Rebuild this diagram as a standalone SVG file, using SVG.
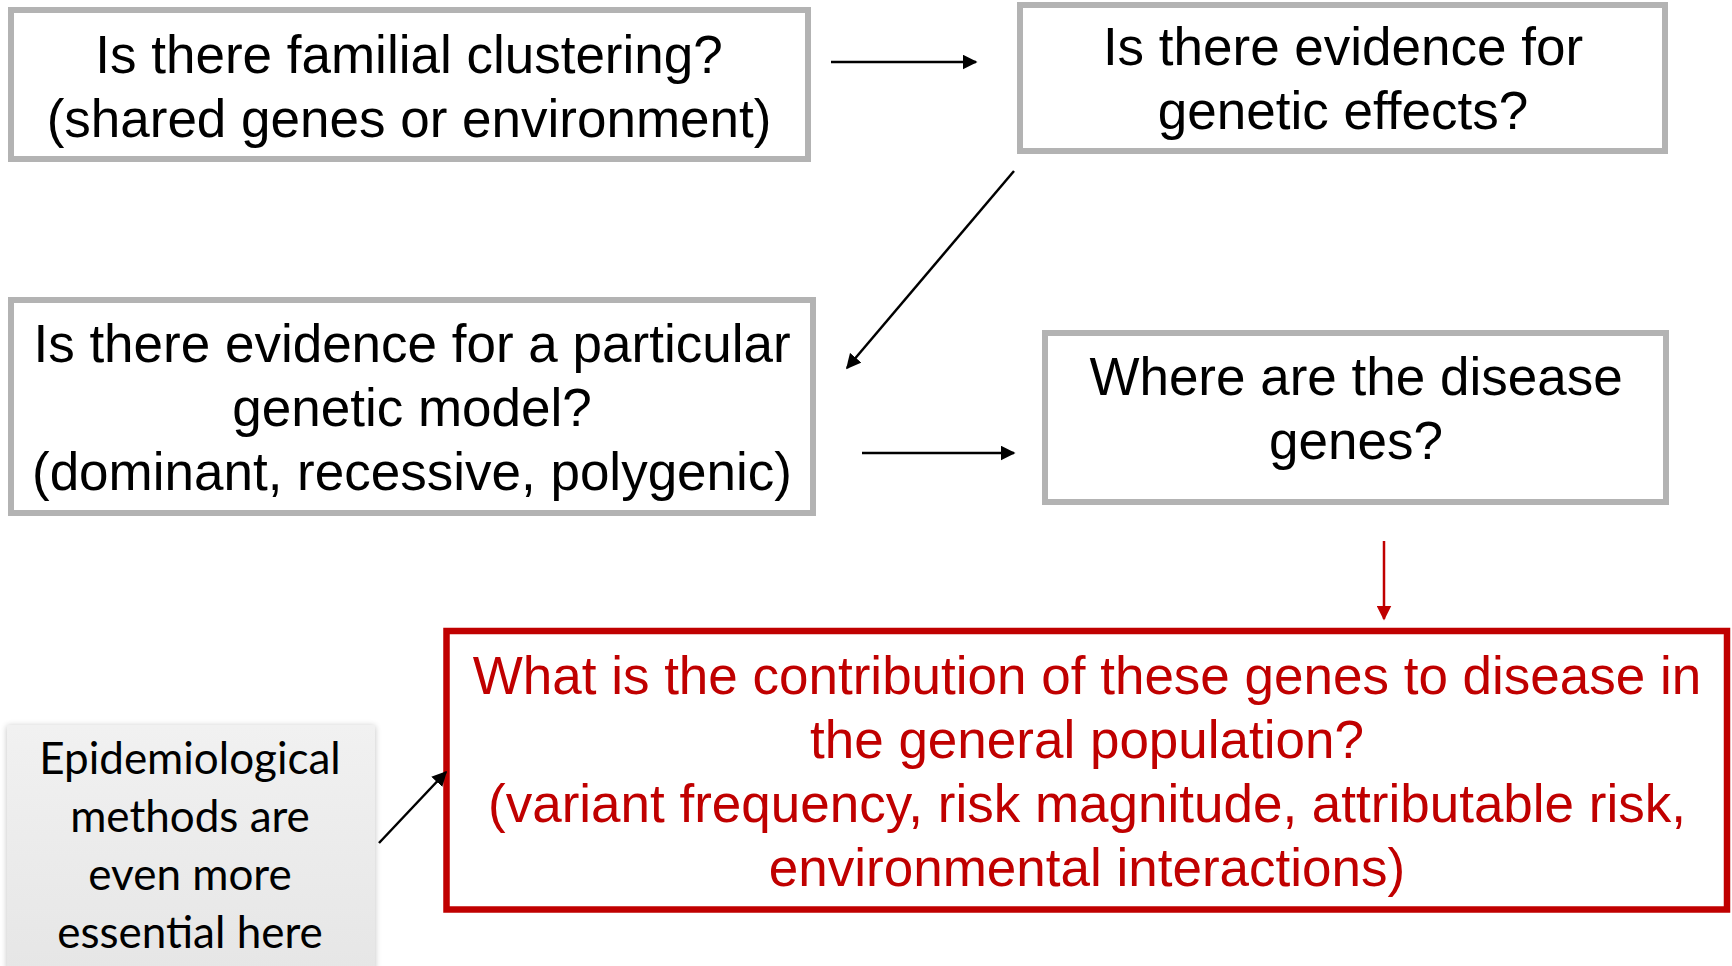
<svg xmlns="http://www.w3.org/2000/svg" width="1732" height="966" viewBox="0 0 1732 966">
  <style>
    .box { fill: #ffffff; stroke: #b3b3b3; stroke-width: 6; }
    .hot { fill: #ffffff; stroke: #c00000; stroke-width: 6.5; }
    .t { font-family: "Liberation Sans", Arial, sans-serif; font-size: 53px; fill: #000000; text-anchor: middle; }
    .tr { font-family: "Liberation Sans", Arial, sans-serif; font-size: 53px; fill: #c00000; text-anchor: middle; }
    .note { font-family: Lato, "Open Sans", sans-serif; font-size: 44px; fill: #000000; text-anchor: middle; }
    .ln { stroke: #000000; stroke-width: 2.5; fill: none; }
    .lnr { stroke: #c00000; stroke-width: 2.5; fill: none; }
  </style>
  <defs>
    <marker id="ah" viewBox="0 0 10 10" refX="9" refY="5" markerWidth="6" markerHeight="6" markerUnits="strokeWidth" orient="auto">
      <path d="M0,0 L10,5 L0,10 z" fill="#000000"/>
    </marker>
    <marker id="ahr" viewBox="0 0 10 10" refX="9" refY="5" markerWidth="6" markerHeight="6" markerUnits="strokeWidth" orient="auto">
      <path d="M0,0 L10,5 L0,10 z" fill="#c00000"/>
    </marker>
    <linearGradient id="noteFill" x1="0" y1="0" x2="0" y2="1">
      <stop offset="0" stop-color="#f1f1f1"/>
      <stop offset="1" stop-color="#e6e6e6"/>
    </linearGradient>
    <filter id="soft" x="-10%" y="-10%" width="120%" height="120%">
      <feGaussianBlur in="SourceAlpha" stdDeviation="3"/>
      <feOffset dx="0" dy="1" result="b"/>
      <feComponentTransfer><feFuncA type="linear" slope="0.25"/></feComponentTransfer>
      <feMerge><feMergeNode/><feMergeNode in="SourceGraphic"/></feMerge>
    </filter>
  </defs>

  <rect width="1732" height="966" fill="#ffffff"/>

  <g id="familial-clustering">
    <rect class="box" x="11" y="10" width="797" height="149"/>
    <text class="t" x="409" y="73">Is there familial clustering?</text>
    <text class="t" x="409" y="137">(shared genes or environment)</text>
  </g>

  <g id="genetic-effects">
    <rect class="box" x="1020" y="5" width="645" height="146"/>
    <text class="t" x="1343" y="65">Is there evidence for</text>
    <text class="t" x="1343" y="129">genetic effects?</text>
  </g>

  <g id="genetic-model">
    <rect class="box" x="11" y="300" width="802" height="213"/>
    <text class="t" x="412" y="362">Is there evidence for a particular</text>
    <text class="t" x="412" y="426">genetic model?</text>
    <text class="t" x="412" y="490">(dominant, recessive, polygenic)</text>
  </g>

  <g id="disease-genes">
    <rect class="box" x="1045" y="333" width="621" height="169"/>
    <text class="t" x="1356" y="395">Where are the disease</text>
    <text class="t" x="1356" y="459">genes?</text>
  </g>

  <g id="population-contribution">
    <rect class="hot" x="446.5" y="631" width="1280.5" height="278.5"/>
    <text class="tr" x="1087" y="694">What is the contribution of these genes to disease in</text>
    <text class="tr" x="1087" y="758">the general population?</text>
    <text class="tr" x="1087" y="822">(variant frequency, risk magnitude, attributable risk,</text>
    <text class="tr" x="1087" y="886">environmental interactions)</text>
  </g>

  <g id="epidemiology-note">
    <rect x="7" y="725" width="368" height="245" fill="url(#noteFill)" filter="url(#soft)"/>
    <text class="note" x="190" y="774">Epidemiological</text>
    <text class="note" x="190" y="832">methods are</text>
    <text class="note" x="190" y="890">even more</text>
    <text class="note" x="190" y="948">essential here</text>
  </g>

  <g id="connectors">
    <line class="ln" x1="831" y1="62" x2="976" y2="62" marker-end="url(#ah)"/>
    <line class="ln" x1="1014" y1="171" x2="847" y2="368" marker-end="url(#ah)"/>
    <line class="ln" x1="862" y1="453" x2="1014" y2="453" marker-end="url(#ah)"/>
    <line class="lnr" x1="1384" y1="541" x2="1384" y2="619" marker-end="url(#ahr)"/>
    <line class="ln" x1="379" y1="843" x2="446" y2="772" marker-end="url(#ah)"/>
  </g>
</svg>
